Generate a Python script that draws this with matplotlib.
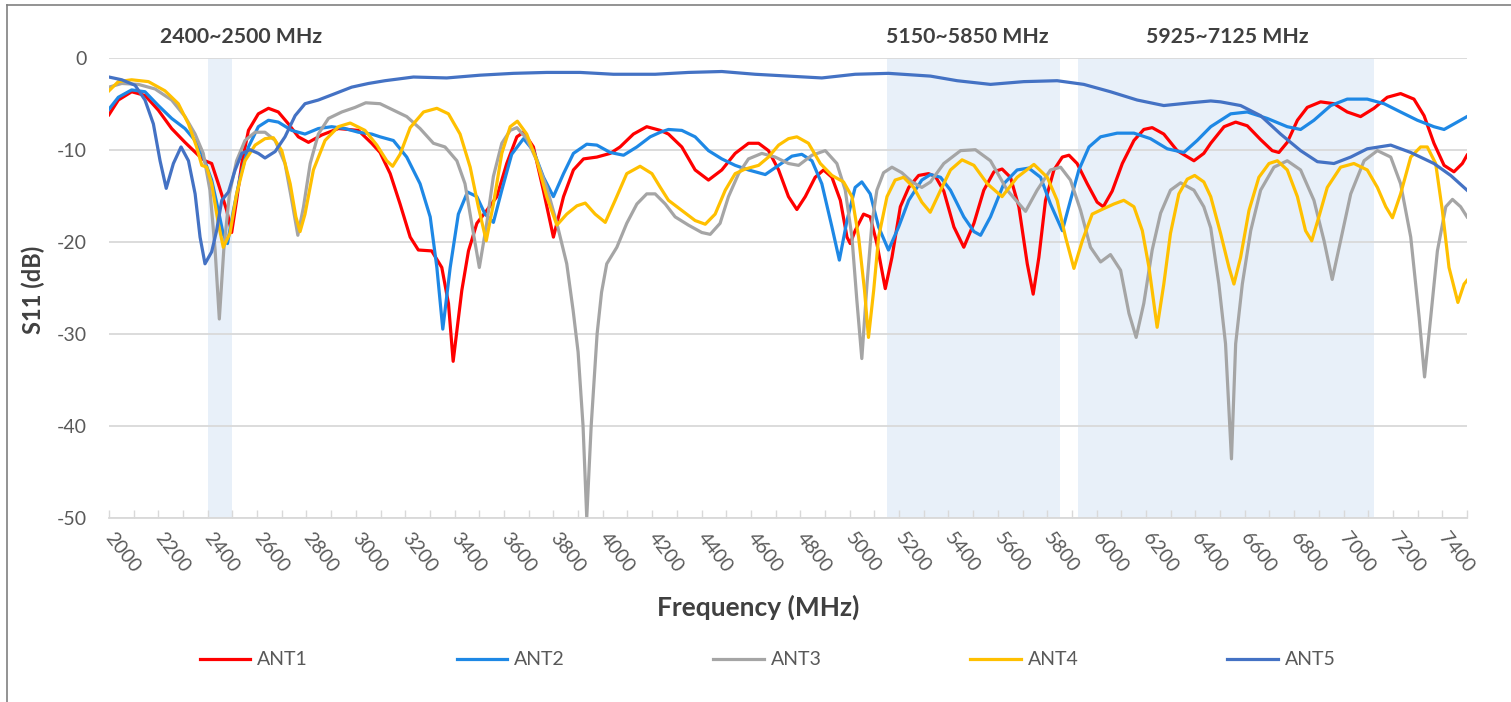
import matplotlib
matplotlib.use("Agg")
import matplotlib.pyplot as plt
from matplotlib.lines import Line2D
from matplotlib.ticker import MultipleLocator

plt.rcParams['font.family'] = ['Lato', 'DejaVu Sans']
plt.rcParams['axes.unicode_minus'] = False

# values (frequency in MHz, S11 in dB)
ant1_f = [2000, 2038, 2092, 2146, 2200, 2254, 2308, 2362, 2389, 2416, 2443, 2477, 2497, 2517, 2538,
          2565, 2605, 2646, 2686, 2727, 2767, 2808, 2862, 2929, 3010, 3064, 3098, 3139, 3179, 3220,
          3253, 3307, 3348, 3375, 3394, 3429, 3456, 3490, 3530, 3571, 3611, 3652, 3679, 3719, 3760,
          3800, 3841, 3881, 3922, 3976, 4030, 4070, 4124, 4178, 4233, 4266, 4320, 4374, 4428, 4482,
          4536, 4590, 4631, 4671, 4712, 4752, 4786, 4820, 4860, 4894, 4928, 4962, 4989, 5002, 5022,
          5056, 5083, 5110, 5144, 5171, 5205, 5239, 5279, 5319, 5347, 5381, 5422, 5462, 5503, 5543,
          5584, 5617, 5651, 5685, 5719, 5743, 5766, 5793, 5827, 5861, 5888, 5921, 5962, 6002, 6027,
          6063, 6104, 6151, 6191, 6225, 6272, 6326, 6394, 6434, 6462, 6516, 6563, 6610, 6664, 6711,
          6738, 6772, 6813, 6853, 6907, 6961, 7015, 7069, 7123, 7177, 7231, 7285, 7326, 7366, 7407,
          7447, 7481, 7500]
ant1_db = [-6.2, -4.6, -3.7, -4.1, -5.7, -7.7, -9.2, -10.6, -11.2, -11.5, -13.7, -16.6, -19.0, -15.5, -11.5,
           -7.9, -6.1, -5.5, -5.9, -7.2, -8.6, -9.2, -8.4, -7.7, -7.9, -9.3, -10.3, -12.6, -15.9, -19.5,
           -20.9, -21.0, -22.8, -26.7, -33.0, -25.3, -21.0, -18.0, -16.6, -15.1, -11.5, -8.6, -8.1, -9.7, -14.5,
           -19.5, -15.1, -12.2, -11.0, -10.8, -10.4, -9.7, -8.3, -7.5, -7.9, -8.3, -9.7, -12.2, -13.3, -12.2,
           -10.4, -9.3, -9.3, -10.1, -12.2, -15.1, -16.5, -15.1, -13.0, -12.2, -13.0, -15.5, -19.5, -20.2, -18.8,
           -17.0, -17.3, -20.2, -25.1, -21.7, -16.2, -14.1, -12.8, -12.6, -12.9, -14.5, -18.4, -20.6, -18.0, -14.4,
           -12.4, -12.1, -13.0, -16.2, -22.4, -25.7, -21.7, -15.5, -12.2, -10.8, -10.6, -11.5, -13.7, -15.7, -16.2,
           -14.5, -11.5, -9.0, -7.8, -7.6, -8.3, -10.1, -11.2, -10.4, -9.3, -7.5, -7.0, -7.4, -8.9, -10.1,
           -10.3, -9.2, -6.8, -5.4, -4.8, -5.0, -5.9, -6.4, -5.5, -4.3, -3.9, -4.5, -6.3, -9.3, -11.7,
           -12.4, -11.5, -10.6]

ant2_f = [2000, 2038, 2092, 2146, 2200, 2254, 2308, 2349, 2382, 2416, 2443, 2463, 2480, 2504, 2531,
          2565, 2605, 2646, 2686, 2740, 2794, 2848, 2902, 2956, 3010, 3064, 3098, 3152, 3206, 3260,
          3301, 3328, 3352, 3382, 3415, 3452, 3490, 3523, 3557, 3591, 3631, 3679, 3719, 3760, 3800,
          3841, 3881, 3935, 3976, 4030, 4084, 4138, 4192, 4233, 4266, 4320, 4374, 4428, 4482, 4536,
          4590, 4658, 4712, 4766, 4806, 4847, 4887, 4928, 4958, 4989, 5022, 5049, 5083, 5117, 5157,
          5198, 5239, 5292, 5327, 5368, 5408, 5462, 5503, 5530, 5570, 5624, 5678, 5725, 5773, 5813,
          5861, 5894, 5928, 5969, 6016, 6083, 6151, 6218, 6286, 6353, 6407, 6462, 6543, 6610, 6691,
          6772, 6826, 6880, 6948, 7015, 7096, 7164, 7231, 7299, 7366, 7407, 7447, 7500]
ant2_db = [-5.6, -4.3, -3.5, -3.7, -5.2, -6.6, -7.7, -9.0, -10.8, -13.3, -16.6, -19.2, -20.2, -16.6, -13.0,
           -9.7, -7.5, -6.8, -7.0, -7.9, -8.3, -7.7, -7.5, -7.7, -8.1, -8.3, -8.6, -9.0, -10.8, -13.7,
           -17.3, -22.8, -29.5, -22.8, -17.0, -14.6, -15.1, -17.0, -17.9, -14.4, -10.5, -8.8, -10.1, -13.0, -15.1,
           -12.6, -10.4, -9.4, -9.5, -10.3, -10.6, -9.7, -8.6, -8.1, -7.8, -7.9, -8.6, -10.1, -11.0, -11.7,
           -12.2, -12.7, -11.7, -10.7, -10.5, -11.2, -13.7, -18.4, -22.0, -17.7, -14.1, -13.5, -14.8, -18.4, -20.9,
           -18.4, -15.5, -13.3, -12.7, -13.0, -14.4, -17.3, -18.9, -19.3, -17.3, -13.7, -12.2, -12.0, -13.0, -15.9,
           -18.8, -15.5, -12.2, -9.7, -8.6, -8.2, -8.2, -8.8, -9.9, -10.3, -9.0, -7.5, -6.1, -5.9, -6.6,
           -7.5, -7.8, -6.8, -5.2, -4.5, -4.5, -5.0, -5.9, -6.8, -7.5, -7.8, -7.2, -6.4]

ant3_f = [2000, 2052, 2119, 2187, 2254, 2308, 2349, 2382, 2409, 2430, 2447, 2465, 2488, 2517, 2551,
          2592, 2632, 2673, 2713, 2743, 2765, 2788, 2815, 2848, 2889, 2943, 2997, 3040, 3098, 3152,
          3206, 3260, 3314, 3361, 3409, 3442, 3469, 3500, 3530, 3557, 3591, 3625, 3652, 3692, 3733,
          3773, 3814, 3854, 3880, 3900, 3920, 3935, 3953, 3977, 3995, 4016, 4057, 4097, 4138, 4178,
          4212, 4253, 4293, 4347, 4401, 4435, 4475, 4509, 4550, 4590, 4644, 4698, 4752, 4793, 4847,
          4901, 4948, 4982, 5009, 5029, 5049, 5070, 5090, 5110, 5137, 5171, 5211, 5252, 5292, 5327,
          5381, 5449, 5509, 5570, 5638, 5712, 5759, 5813, 5854, 5894, 5935, 5975, 6016, 6056, 6097,
          6131, 6160, 6191, 6225, 6259, 6299, 6340, 6394, 6434, 6462, 6495, 6522, 6546, 6563, 6590,
          6624, 6664, 6718, 6772, 6826, 6880, 6921, 6954, 6988, 7029, 7083, 7137, 7191, 7231, 7272,
          7306, 7328, 7353, 7380, 7414, 7441, 7474, 7500]
ant3_db = [-3.2, -2.8, -2.9, -3.4, -4.6, -6.4, -8.3, -10.4, -14.4, -20.9, -28.4, -20.9, -14.8, -11.2, -9.0,
           -8.1, -8.1, -9.0, -11.5, -15.9, -19.3, -16.2, -11.5, -8.3, -6.6, -5.9, -5.4, -4.9, -5.0, -5.7,
           -6.4, -7.7, -9.3, -9.7, -11.2, -13.7, -18.0, -22.8, -18.0, -12.9, -9.3, -7.9, -7.6, -8.8, -11.2,
           -14.1, -18.0, -22.4, -27.5, -32.0, -40.0, -50.0, -40.0, -30.0, -25.5, -22.4, -20.6, -18.0, -15.9, -14.8,
           -14.8, -15.9, -17.3, -18.2, -19.0, -19.2, -18.0, -15.1, -12.6, -11.0, -10.4, -10.8, -11.5, -11.7, -10.6,
           -10.1, -11.5, -14.4, -19.5, -26.4, -32.7, -24.6, -18.0, -14.4, -12.5, -11.9, -12.5, -13.5, -14.1, -13.5,
           -11.5, -10.1, -10.0, -11.2, -14.4, -16.7, -14.4, -12.2, -11.9, -13.3, -16.6, -20.6, -22.2, -21.4, -23.1,
           -27.8, -30.4, -26.7, -20.9, -16.9, -14.4, -13.6, -14.4, -16.2, -18.5, -24.6, -31.1, -43.6, -31.1, -24.6,
           -18.8, -14.4, -11.9, -11.2, -12.2, -15.5, -19.9, -24.1, -19.9, -14.8, -11.2, -10.1, -10.8, -13.7, -19.5,
           -28.2, -34.7, -28.2, -21.0, -16.2, -15.4, -16.2, -17.3]

ant4_f = [2000, 2038, 2092, 2160, 2227, 2281, 2322, 2355, 2376, 2396, 2416, 2443, 2463, 2490, 2517,
          2551, 2592, 2632, 2666, 2700, 2734, 2757, 2774, 2794, 2828, 2875, 2929, 2977, 3037, 3085,
          3125, 3149, 3179, 3220, 3274, 3328, 3375, 3422, 3463, 3496, 3528, 3557, 3591, 3625, 3654,
          3692, 3733, 3773, 3814, 3854, 3895, 3929, 3969, 4010, 4050, 4097, 4151, 4199, 4233, 4266,
          4320, 4374, 4415, 4455, 4496, 4536, 4577, 4631, 4671, 4712, 4752, 4786, 4833, 4881, 4928,
          4975, 5009, 5036, 5060, 5076, 5097, 5117, 5151, 5184, 5218, 5259, 5292, 5326, 5368, 5408,
          5455, 5503, 5557, 5617, 5678, 5746, 5800, 5840, 5874, 5908, 5942, 5982, 6029, 6070, 6110,
          6151, 6185, 6212, 6245, 6272, 6299, 6333, 6367, 6397, 6434, 6462, 6502, 6536, 6556, 6583,
          6617, 6657, 6698, 6732, 6772, 6813, 6846, 6871, 6900, 6934, 6988, 7042, 7096, 7137, 7171,
          7198, 7231, 7272, 7312, 7339, 7373, 7400, 7427, 7463, 7488, 7500]
ant4_db = [-3.6, -2.6, -2.4, -2.6, -3.6, -5.0, -7.2, -9.7, -11.7, -11.9, -13.7, -18.0, -20.6, -19.1, -14.8,
           -11.2, -9.5, -8.8, -8.7, -10.1, -13.7, -17.3, -18.9, -17.0, -12.2, -9.0, -7.5, -7.1, -7.9, -9.5,
           -11.2, -11.8, -10.5, -7.6, -5.9, -5.5, -6.1, -8.3, -11.9, -16.2, -19.9, -15.9, -10.4, -7.5, -6.9,
           -8.3, -11.2, -15.1, -18.2, -17.0, -16.1, -15.8, -17.0, -17.9, -15.5, -12.6, -11.8, -12.6, -14.1, -15.5,
           -16.6, -17.7, -18.1, -17.0, -14.4, -12.6, -12.1, -11.7, -10.8, -9.5, -8.8, -8.6, -9.3, -11.5, -12.8,
           -13.5, -15.1, -19.5, -25.3, -30.4, -25.3, -19.5, -15.1, -13.3, -13.0, -14.1, -15.7, -16.8, -14.4, -12.2,
           -11.1, -11.7, -13.7, -15.1, -13.0, -11.6, -13.0, -15.5, -19.5, -22.9, -19.9, -17.0, -16.4, -15.9, -15.5,
           -16.2, -18.8, -22.8, -29.3, -24.6, -19.1, -14.8, -13.2, -12.8, -13.5, -15.1, -19.1, -22.8, -24.6, -21.7,
           -16.6, -13.0, -11.5, -11.2, -12.2, -15.1, -18.8, -19.9, -17.3, -14.1, -11.9, -11.5, -12.2, -14.1, -16.2,
           -17.4, -14.8, -10.8, -9.7, -9.7, -11.5, -16.6, -22.8, -26.6, -24.6, -24.2]

ant5_f = [2000, 2052, 2106, 2146, 2180, 2207, 2232, 2261, 2292, 2322, 2349, 2369, 2389, 2416, 2436,
          2457, 2484, 2511, 2538, 2571, 2605, 2632, 2673, 2713, 2754, 2794, 2848, 2916, 2983, 3051,
          3118, 3233, 3368, 3503, 3638, 3773, 3908, 4043, 4212, 4347, 4482, 4617, 4752, 4887, 5022,
          5157, 5327, 5435, 5570, 5705, 5840, 5948, 6056, 6164, 6272, 6380, 6462, 6502, 6583, 6664,
          6745, 6826, 6894, 6961, 7029, 7096, 7191, 7272, 7366, 7434, 7500]
ant5_db = [-2.1, -2.4, -3.0, -4.6, -7.2, -11.2, -14.2, -11.5, -9.7, -11.2, -14.8, -19.5, -22.4, -21.1, -18.8,
           -15.5, -14.6, -12.2, -10.4, -10.0, -10.4, -10.9, -10.2, -8.6, -6.3, -5.0, -4.6, -3.9, -3.2, -2.8,
           -2.5, -2.1, -2.2, -1.9, -1.7, -1.6, -1.6, -1.8, -1.8, -1.6, -1.5, -1.8, -2.0, -2.2, -1.8,
           -1.7, -2.0, -2.5, -2.9, -2.6, -2.5, -2.9, -3.7, -4.6, -5.2, -4.9, -4.7, -4.8, -5.2, -6.3,
           -8.3, -10.1, -11.3, -11.5, -10.8, -9.9, -9.5, -10.3, -11.5, -12.8, -14.4]

bands = [(2400, 2500), (5150, 5850), (5925, 7125)]
band_labels = ['2400~2500 MHz', '5150~5850 MHz', '5925~7125 MHz']
band_label_x = [2537, 5476, 6530]

series = [('ANT1', ant1_f, ant1_db, '#FF0000'),
          ('ANT2', ant2_f, ant2_db, '#1E88E5'),
          ('ANT3', ant3_f, ant3_db, '#A5A5A5'),
          ('ANT4', ant4_f, ant4_db, '#FFC000'),
          ('ANT5', ant5_f, ant5_db, '#4472C4')]

fig = plt.figure(figsize=(15.11, 7.02), dpi=100)
ax = fig.add_axes([0.0721, 0.2625, 0.8988, 0.6553])

for lo, hi in bands:
    ax.axvspan(lo, hi, color='#E8F0F9', zorder=0.2, lw=0)

for name, f, db, c in series:
    ax.plot(f, db, color=c, lw=2.3, label=name, zorder=2, solid_joinstyle='round')

for x, t in zip(band_label_x, band_labels):
    ax.text(x, 2.3, t, ha='center', va='center', fontsize=15.3, fontweight='bold',
            color='#404040', clip_on=False)

ax.set_xlim(2000, 7500)
ax.set_ylim(-50, 0)
ax.xaxis.set_minor_locator(MultipleLocator(100))
ax.yaxis.set_major_locator(MultipleLocator(10))
ax.set_xticks([t for t in range(2000, 7401, 200)])

for s in ['top', 'right', 'left']:
    ax.spines[s].set_visible(False)
ax.spines['bottom'].set_color('#D9D9D9')
ax.spines['bottom'].set_linewidth(1.3)

ax.yaxis.grid(True, color='#D9D9D9', lw=1.3, zorder=0.5)
ax.set_axisbelow(True)

ax.tick_params(axis='y', length=0, pad=16, labelsize=14, labelcolor='#595959')
ax.tick_params(axis='x', which='both', direction='in', length=5.8, width=1, color='#D9D9D9')
ax.tick_params(axis='x', which='major', pad=12, labelsize=14, labelcolor='#595959')
for lab in ax.get_xticklabels():
    lab.set_rotation(-52)
    lab.set_rotation_mode('anchor')
    lab.set_ha('left')
    lab.set_va('center')

fig.text(0.502, 0.1353, 'Frequency (MHz)', ha='center', va='center', fontsize=19,
         fontweight='bold', color='#404040')
fig.text(0.0218, 0.587, 'S11 (dB)', ha='center', va='center', rotation=90, fontsize=17,
         fontweight='bold', color='#404040')

leg = fig.legend(loc='center', bbox_to_anchor=(0.508, 0.06), ncol=5, frameon=False,
                 fontsize=14, handlelength=2.6, handletextpad=0.35, columnspacing=7.65)
for t in leg.get_texts():
    t.set_color('#595959')

# outer frame (left and top edges visible)
fig.add_artist(Line2D([7 / 1511, 7 / 1511], [0, 1 - 5 / 702], transform=fig.transFigure,
                      color='#808080', lw=1.2))
fig.add_artist(Line2D([7 / 1511, 1], [1 - 5 / 702, 1 - 5 / 702], transform=fig.transFigure,
                      color='#808080', lw=1.2))

fig.savefig('out.png', dpi=100)
